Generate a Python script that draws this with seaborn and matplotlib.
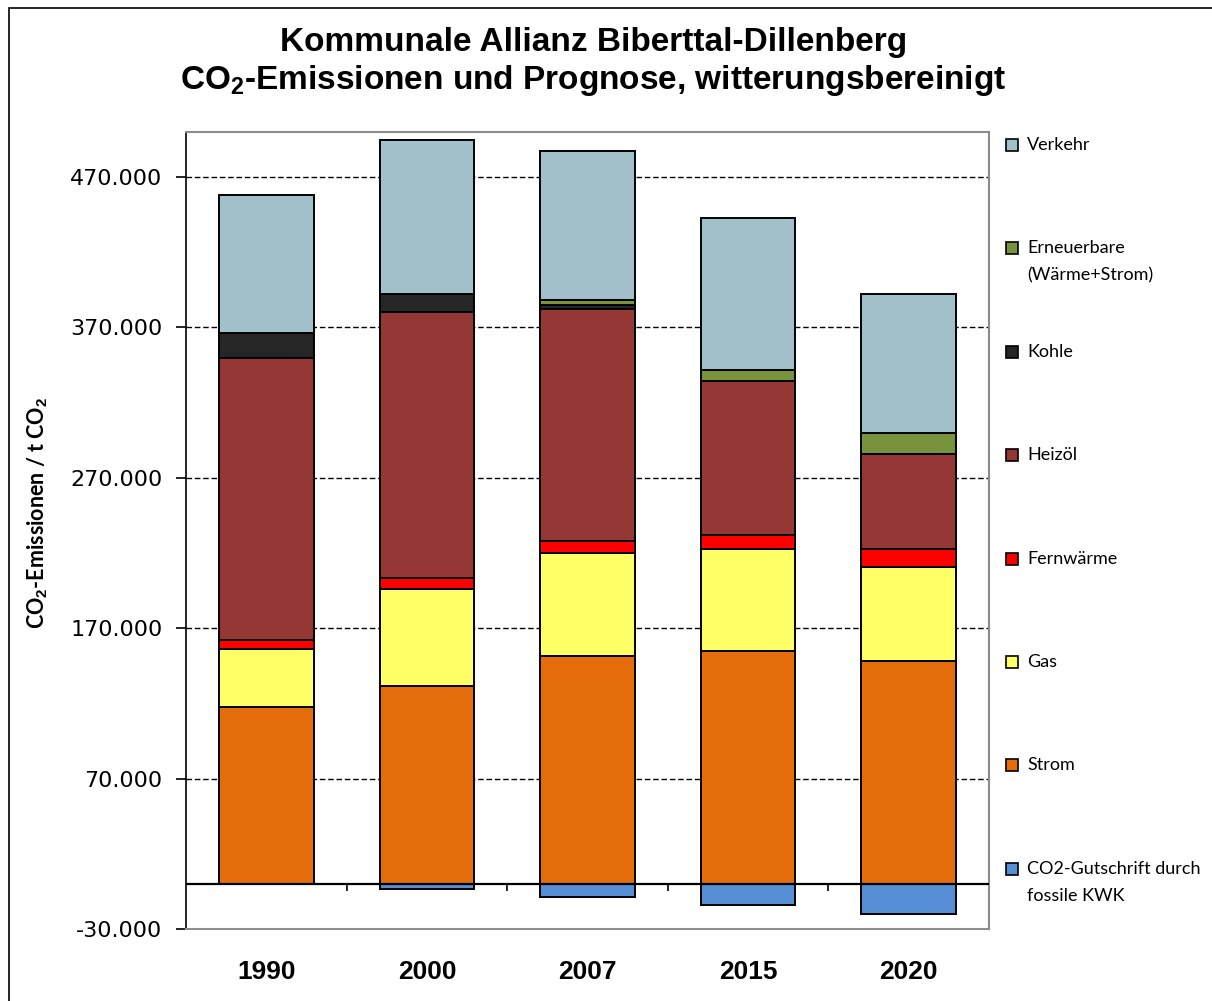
import numpy as np
import pandas as pd
import matplotlib
matplotlib.use("Agg")
import matplotlib.pyplot as plt
from matplotlib.patches import Rectangle
from matplotlib.ticker import FuncFormatter, FixedLocator
import seaborn as sns

# ---------------- data (t CO2) ----------------
years = ["1990", "2000", "2007", "2015", "2020"]
strom = [117700, 131900, 151600, 155100, 148000]
gas = [38200, 63900, 68700, 67500, 62800]
fernwaerme = [6000, 7900, 8000, 9600, 12000]
heizoel = [187800, 176500, 154200, 102200, 63000]
kohle = [16600, 12000, 2600, 0, 0]
erneuerbare = [0, 0, 3100, 7100, 13900]
verkehr = [92000, 102200, 99300, 101600, 92500]
gutschrift = [0, -3500, -8400, -14100, -19900]

series_names = ["Strom", "Gas", "Fernwärme", "Heizöl", "Kohle",
                "Erneuerbare\n(Wärme+Strom)", "Verkehr"]
series_values = [strom, gas, fernwaerme, heizoel, kohle, erneuerbare, verkehr]
series_colors = ["#E46C0A", "#FFFF66", "#FF0000", "#953735", "#262626",
                 "#77933C", "#A2C0C9"]
gut_name = "CO2-Gutschrift durch\nfossile KWK"
gut_color = "#558ED5"

y_ticks = [-30000, 70000, 170000, 270000, 370000, 470000]

# ---------------- figure ----------------
sns.set_theme(style="white")
plt.rcParams["font.family"] = ["DejaVu Sans"]
plt.rcParams["text.color"] = "black"
plt.rcParams["axes.labelcolor"] = "black"
plt.rcParams["xtick.color"] = "black"
plt.rcParams["ytick.color"] = "black"
plt.rcParams["mathtext.fontset"] = "custom"
plt.rcParams["mathtext.rm"] = "Liberation Sans"
plt.rcParams["mathtext.bf"] = "Liberation Sans:bold"

W, H = 1212, 1001
fig = plt.figure(figsize=(W / 100, H / 100), dpi=100)
fig.patch.set_facecolor("white")

def fx(px):
    return px / W

def fy(py):
    return 1 - py / H

# outer frame
fig.patches.append(Rectangle((fx(9), fy(1003)), 1.2, fy(8) - fy(1003),
                             transform=fig.transFigure, fill=False,
                             edgecolor="black", linewidth=1.2))

ax_left, ax_right, ax_top, ax_bottom = 186, 989, 132, 929
ax = fig.add_axes([fx(ax_left), fy(ax_bottom), fx(ax_right - ax_left),
                   fy(ax_top) - fy(ax_bottom)])

df = pd.DataFrame({"Jahr": years})
bottom = np.zeros(len(years))
for name, vals, col in zip(series_names, series_values, series_colors):
    df[name] = vals
    sns.barplot(data=df, x="Jahr", y=name, order=years, color=col,
                saturation=1, width=0.59, bottom=bottom, edgecolor="black",
                linewidth=1.4, ax=ax, zorder=3)
    bottom = bottom + np.array(vals, dtype=float)
df["gut"] = gutschrift
sns.barplot(data=df, x="Jahr", y="gut", order=years, color=gut_color,
            saturation=1, width=0.59, edgecolor="black", linewidth=1.4,
            ax=ax, zorder=3)

ax.set_ylim(-30000, 500000)
ax.set_xlim(-0.5, len(years) - 0.5)

# gridlines
for t in y_ticks[1:]:
    ax.axhline(t, color="black", linestyle=(0, (4, 2)), linewidth=1.0, zorder=1)
# zero axis line with category tick marks
ax.axhline(0, color="black", linewidth=1.6, zorder=4)
ax.vlines([i + 0.5 for i in range(len(years) - 1)], -5000, 0,
          color="black", linewidth=1.2, zorder=4)

# spines
for s in ["top", "right", "bottom"]:
    ax.spines[s].set_color("#8c8c8c")
    ax.spines[s].set_linewidth(1.5)
ax.spines["left"].set_color("black")
ax.spines["left"].set_linewidth(1.2)

ax.yaxis.set_major_locator(FixedLocator(y_ticks))
ax.yaxis.set_major_formatter(FuncFormatter(lambda v, p: f"{v:,.0f}".replace(",", ".")))
ax.tick_params(axis="y", direction="out", length=7, width=1.2, color="black",
               labelsize=16, pad=10, left=True, labelcolor="black")
for lab in ax.get_yticklabels():
    lab.set_fontfamily("DejaVu Sans")

ax.set_xticks(range(len(years)))
ax.set_xticklabels(years, fontsize=19, fontweight="bold", family="Liberation Sans",
                   color="black")
ax.tick_params(axis="x", length=0, pad=22)
ax.set_xlabel("")
ax.set_ylabel("")

# y label
fig.text(fx(38), fy(513), r"CO$_\mathbf{2}$-Emissionen / t CO$_\mathbf{2}$",
         rotation=90, ha="center", va="center", fontsize=15.5,
         fontweight="bold", family="Lato", color="black")

# title
fig.text(fx(594), fy(42), "Kommunale Allianz Biberttal-Dillenberg",
         ha="center", va="center", fontsize=24, fontweight="bold",
         family="Liberation Sans", color="black")
fig.text(fx(593), fy(80), r"CO$_\mathbf{2}$-Emissionen und Prognose, witterungsbereinigt",
         ha="center", va="center", fontsize=24, fontweight="bold",
         family="Liberation Sans", color="black")

# legend (manual, top to bottom)
leg_names = [series_names[6], series_names[5], series_names[4], series_names[3],
             series_names[2], series_names[1], series_names[0], gut_name]
leg_colors = [series_colors[6], series_colors[5], series_colors[4], series_colors[3],
              series_colors[2], series_colors[1], series_colors[0], gut_color]
for i, (nm, col) in enumerate(zip(leg_names, leg_colors)):
    py = 145 + i * 103.4
    fig.patches.append(Rectangle((fx(1006), fy(py + 6)), fx(12), fy(py - 6) - fy(py + 6),
                                 transform=fig.transFigure, facecolor=col,
                                 edgecolor="black", linewidth=1.2))
    for j, line in enumerate(nm.split("\n")):
        fig.text(fx(1027), fy(py + j * 27), line, ha="left", va="center",
                 fontsize=13, family="Lato", color="black")

fig.savefig("out.png", dpi=100, facecolor="white")
